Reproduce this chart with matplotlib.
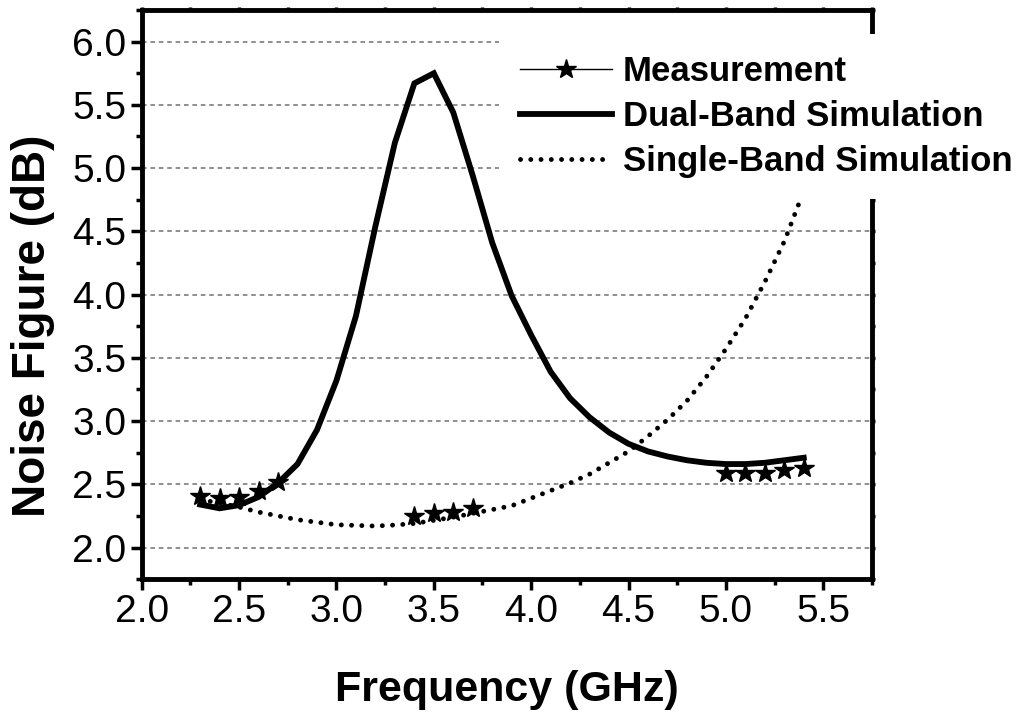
import matplotlib
matplotlib.use('Agg')
import matplotlib.pyplot as plt
from matplotlib.lines import Line2D
from matplotlib.ticker import MultipleLocator, FormatStrFormatter

plt.rcParams['font.family'] = ['Liberation Sans', 'DejaVu Sans']

# Dual-band simulation (solid)
dual_f = [2.3, 2.4, 2.5, 2.6, 2.7, 2.8, 2.9, 3.0, 3.1, 3.2, 3.3, 3.4, 3.5, 3.6,
          3.7, 3.8, 3.9, 4.0, 4.1, 4.2, 4.3, 4.4, 4.5, 4.6, 4.7, 4.8, 4.9,
          5.0, 5.1, 5.2, 5.3, 5.4]
dual_nf = [2.34, 2.31, 2.335, 2.40, 2.51, 2.66, 2.93, 3.32, 3.83, 4.54, 5.20,
           5.67, 5.75, 5.44, 4.94, 4.41, 3.99, 3.68, 3.39, 3.18, 3.03, 2.91,
           2.82, 2.76, 2.72, 2.69, 2.67, 2.66, 2.66, 2.67, 2.69, 2.71]

# Single-band simulation (dotted)
single_f = [2.3, 2.4, 2.5, 2.6, 2.7, 2.8, 2.9, 3.0, 3.1, 3.2, 3.3, 3.4, 3.5,
            3.6, 3.7, 3.8, 3.9, 4.0, 4.1, 4.2, 4.3, 4.4, 4.5, 4.6, 4.7, 4.8,
            4.9, 5.0, 5.1, 5.2, 5.3, 5.4]
single_nf = [2.38, 2.35, 2.32, 2.28, 2.25, 2.22, 2.20, 2.18, 2.175, 2.17, 2.178,
             2.19, 2.215, 2.24, 2.27, 2.30, 2.33, 2.39, 2.45, 2.51, 2.58, 2.67,
             2.76, 2.88, 3.01, 3.16, 3.35, 3.57, 3.81, 4.10, 4.42, 4.82]

# Measurement (stars), three bands
meas_f = [[2.3, 2.4, 2.5, 2.6, 2.7],
          [3.4, 3.5, 3.6, 3.7],
          [5.0, 5.1, 5.2, 5.3, 5.4]]
meas_nf = [[2.41, 2.39, 2.40, 2.45, 2.52],
           [2.25, 2.27, 2.28, 2.31],
           [2.59, 2.59, 2.59, 2.61, 2.63]]

dot_style = (0, (0.01, 2.1))

fig = plt.figure(figsize=(10.27, 7.15), dpi=100)
ax = fig.add_axes([0.138, 0.190, 0.711, 0.796])

ax.plot(dual_f, dual_nf, color='black', lw=4.2, solid_joinstyle='miter', zorder=3)
ax.plot(single_f, single_nf, color='black', lw=3.5,
        linestyle=dot_style, dash_capstyle='round', zorder=3)
for f, nf in zip(meas_f, meas_nf):
    ax.plot(f, nf, linestyle='none', marker='*', markersize=15,
            color='black', zorder=4)

ax.set_xlim(2.0, 5.75)
ax.set_ylim(1.75, 6.25)
ax.xaxis.set_major_locator(MultipleLocator(0.5))
ax.xaxis.set_minor_locator(MultipleLocator(0.25))
ax.yaxis.set_major_locator(MultipleLocator(0.5))
ax.yaxis.set_minor_locator(MultipleLocator(0.25))
ax.xaxis.set_major_formatter(FormatStrFormatter('%.1f'))
ax.yaxis.set_major_formatter(FormatStrFormatter('%.1f'))

ax.grid(axis='y', which='major', color='#707070', linestyle=(0, (3, 2.5)), lw=1.1, zorder=1)
ax.set_axisbelow(True)

for s in ax.spines.values():
    s.set_linewidth(3.5)

ax.tick_params(which='major', direction='out', length=8, width=2.5,
               labelsize=28, pad=3)
ax.tick_params(which='minor', direction='out', length=4.5, width=2.5)
ax.tick_params(which='both', top=True, right=True)
# short ticks on top/right
for axis in (ax.xaxis, ax.yaxis):
    for t in axis.get_ticklines(minor=False)[1::2] + axis.get_ticklines(minor=True)[1::2]:
        t.set_markersize(2)

ax.set_xlabel('Frequency (GHz)', fontsize=31, fontweight='bold')
ax.set_ylabel('Noise Figure (dB)', fontsize=33, fontweight='bold')
ax.xaxis.set_label_coords(0.5, -0.16)
ax.yaxis.set_label_coords(-0.119, 0.446)

handles = [
    Line2D([0], [0], color='black', lw=1, marker='*', markersize=15),
    Line2D([0], [0], color='black', lw=4.2),
    Line2D([0], [0], color='black', lw=3.5, linestyle=dot_style,
           dash_capstyle='round'),
]
labels = ['Measurement', 'Dual-Band Simulation', 'Single-Band Simulation']
leg = ax.legend(handles, labels, loc='upper left', bbox_to_anchor=(0.489, 0.958),
                borderaxespad=0, frameon=True, fancybox=False, framealpha=1,
                facecolor='white', edgecolor='none', handlelength=2.65,
                handletextpad=0.32, labelspacing=0.35, borderpad=0.6,
                prop={'size': 25, 'weight': 'bold'})
leg.set_zorder(10)

fig.savefig('out.png', dpi=100)
